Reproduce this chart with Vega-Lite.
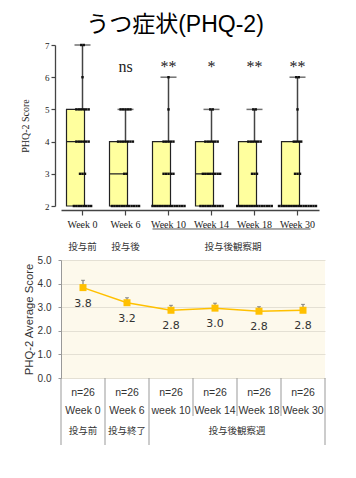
{
"$schema": "https://vega.github.io/schema/vega-lite/v6.json",
"padding": {"left": 20, "top": 14, "right": 5, "bottom": 5},
"title": {"text": "うつ症状(PHQ-2)", "font": "Liberation Sans, Noto Sans CJK JP", "fontSize": 23, "fontWeight": "normal", "color": "#000", "anchor": "middle", "frame": "bounds", "offset": 4, "dx": 2},
"bounds": "flush",
"spacing": 0,
"datasets": {
"box": [
{"week": "Week 0", "min": 2, "q1": 2, "med": 4, "q3": 5, "max": 7},
{"week": "Week 6", "min": 2, "q1": 2, "med": 3, "q3": 4, "max": 5},
{"week": "Week 10", "min": 2, "q1": 2, "med": 2, "q3": 4, "max": 6},
{"week": "Week 14", "min": 2, "q1": 2, "med": 3, "q3": 4, "max": 5},
{"week": "Week 18", "min": 2, "q1": 2, "med": 2, "q3": 4, "max": 5},
{"week": "Week 30", "min": 2, "q1": 2, "med": 2, "q3": 4, "max": 6}
],
"sig": [
{"week": "Week 6", "sig": "ns"},
{"week": "Week 10", "sig": "**"},
{"week": "Week 14", "sig": "*"},
{"week": "Week 18", "sig": "**"},
{"week": "Week 30", "sig": "**"}
],
"wk": [
{"idx": 0, "week": "Week 0", "phase": "投与前"},
{"idx": 1, "week": "Week 6", "phase": "投与後"},
{"idx": 2, "week": "Week 10", "phase": "投与後観察期"},
{"idx": 3, "week": "Week 14", "phase": "投与後観察期"},
{"idx": 4, "week": "Week 18", "phase": "投与後観察期"},
{"idx": 5, "week": "Week 30", "phase": "投与後観察期"}
],
"mean": [
{"idx": 0, "week": "Week 0", "wlabel": "Week 0", "n": "n=26", "mean": 3.83, "upper": 4.14, "label": "3.8", "phase": "投与前"},
{"idx": 1, "week": "Week 6", "wlabel": "Week 6", "n": "n=26", "mean": 3.19, "upper": 3.40, "label": "3.2", "phase": "投与終了"},
{"idx": 2, "week": "Week 10", "wlabel": "week 10", "n": "n=26", "mean": 2.87, "upper": 3.08, "label": "2.8", "phase": "投与後観察週"},
{"idx": 3, "week": "Week 14", "wlabel": "Week 14", "n": "n=26", "mean": 2.96, "upper": 3.17, "label": "3.0", "phase": "投与後観察週"},
{"idx": 4, "week": "Week 18", "wlabel": "Week 18", "n": "n=26", "mean": 2.83, "upper": 3.02, "label": "2.8", "phase": "投与後観察週"},
{"idx": 5, "week": "Week 30", "wlabel": "Week 30", "n": "n=26", "mean": 2.87, "upper": 3.12, "label": "2.8", "phase": "投与後観察週"}
],
"pts": [
{"week":"Week 0","score":7},{"week":"Week 0","score":7},{"week":"Week 0","score":6},
{"week":"Week 0","score":5},{"week":"Week 0","score":5},{"week":"Week 0","score":5},{"week":"Week 0","score":5},{"week":"Week 0","score":5},{"week":"Week 0","score":5},
{"week":"Week 0","score":4},{"week":"Week 0","score":4},{"week":"Week 0","score":4},{"week":"Week 0","score":4},{"week":"Week 0","score":4},{"week":"Week 0","score":4},
{"week":"Week 0","score":3},{"week":"Week 0","score":3},{"week":"Week 0","score":3},
{"week":"Week 0","score":2},{"week":"Week 0","score":2},{"week":"Week 0","score":2},{"week":"Week 0","score":2},{"week":"Week 0","score":2},{"week":"Week 0","score":2},{"week":"Week 0","score":2},{"week":"Week 0","score":2},
{"week":"Week 6","score":5},{"week":"Week 6","score":5},{"week":"Week 6","score":5},{"week":"Week 6","score":5},{"week":"Week 6","score":5},
{"week":"Week 6","score":4},{"week":"Week 6","score":4},{"week":"Week 6","score":4},{"week":"Week 6","score":4},{"week":"Week 6","score":4},{"week":"Week 6","score":4},{"week":"Week 6","score":4},
{"week":"Week 6","score":3},{"week":"Week 6","score":3},
{"week":"Week 6","score":2},{"week":"Week 6","score":2},{"week":"Week 6","score":2},{"week":"Week 6","score":2},{"week":"Week 6","score":2},{"week":"Week 6","score":2},{"week":"Week 6","score":2},{"week":"Week 6","score":2},{"week":"Week 6","score":2},{"week":"Week 6","score":2},{"week":"Week 6","score":2},{"week":"Week 6","score":2},
{"week":"Week 10","score":6},{"week":"Week 10","score":5},
{"week":"Week 10","score":4},{"week":"Week 10","score":4},{"week":"Week 10","score":4},{"week":"Week 10","score":4},{"week":"Week 10","score":4},
{"week":"Week 10","score":3},{"week":"Week 10","score":3},{"week":"Week 10","score":3},{"week":"Week 10","score":3},{"week":"Week 10","score":3},
{"week":"Week 10","score":2},{"week":"Week 10","score":2},{"week":"Week 10","score":2},{"week":"Week 10","score":2},{"week":"Week 10","score":2},{"week":"Week 10","score":2},{"week":"Week 10","score":2},{"week":"Week 10","score":2},{"week":"Week 10","score":2},{"week":"Week 10","score":2},{"week":"Week 10","score":2},{"week":"Week 10","score":2},{"week":"Week 10","score":2},{"week":"Week 10","score":2},
{"week":"Week 14","score":5},{"week":"Week 14","score":5},
{"week":"Week 14","score":4},{"week":"Week 14","score":4},{"week":"Week 14","score":4},{"week":"Week 14","score":4},{"week":"Week 14","score":4},{"week":"Week 14","score":4},
{"week":"Week 14","score":3},{"week":"Week 14","score":3},{"week":"Week 14","score":3},{"week":"Week 14","score":3},{"week":"Week 14","score":3},{"week":"Week 14","score":3},{"week":"Week 14","score":3},{"week":"Week 14","score":3},
{"week":"Week 14","score":2},{"week":"Week 14","score":2},{"week":"Week 14","score":2},{"week":"Week 14","score":2},{"week":"Week 14","score":2},{"week":"Week 14","score":2},{"week":"Week 14","score":2},{"week":"Week 14","score":2},{"week":"Week 14","score":2},{"week":"Week 14","score":2},
{"week":"Week 18","score":5},{"week":"Week 18","score":5},
{"week":"Week 18","score":4},{"week":"Week 18","score":4},{"week":"Week 18","score":4},{"week":"Week 18","score":4},{"week":"Week 18","score":4},{"week":"Week 18","score":4},
{"week":"Week 18","score":3},{"week":"Week 18","score":3},{"week":"Week 18","score":3},
{"week":"Week 18","score":2},{"week":"Week 18","score":2},{"week":"Week 18","score":2},{"week":"Week 18","score":2},{"week":"Week 18","score":2},{"week":"Week 18","score":2},{"week":"Week 18","score":2},{"week":"Week 18","score":2},{"week":"Week 18","score":2},{"week":"Week 18","score":2},{"week":"Week 18","score":2},{"week":"Week 18","score":2},{"week":"Week 18","score":2},{"week":"Week 18","score":2},{"week":"Week 18","score":2},
{"week":"Week 30","score":6},{"week":"Week 30","score":6},{"week":"Week 30","score":5},
{"week":"Week 30","score":4},{"week":"Week 30","score":4},{"week":"Week 30","score":4},{"week":"Week 30","score":4},
{"week":"Week 30","score":3},{"week":"Week 30","score":3},{"week":"Week 30","score":3},
{"week":"Week 30","score":2},{"week":"Week 30","score":2},{"week":"Week 30","score":2},{"week":"Week 30","score":2},{"week":"Week 30","score":2},{"week":"Week 30","score":2},{"week":"Week 30","score":2},{"week":"Week 30","score":2},{"week":"Week 30","score":2},{"week":"Week 30","score":2},{"week":"Week 30","score":2},{"week":"Week 30","score":2},{"week":"Week 30","score":2},{"week":"Week 30","score":2},{"week":"Week 30","score":2},{"week":"Week 30","score":2}
]
},
"vconcat": [
{
"width": 258,
"height": 161,
"encoding": {"x": {"field": "week", "type": "nominal", "scale": {"domain": ["Week 0","Week 6","Week 10","Week 14","Week 18","Week 30"], "paddingInner": 0.256, "paddingOuter": 0.128}, "axis": {"title": null, "labelAngle": 0, "labelFont": "Liberation Serif", "labelFontSize": 10, "labelColor": "#222", "tickSize": 5, "tickColor": "#444", "tickWidth": 1.2, "domainColor": "#444", "domainWidth": 1.3, "offset": 4, "labelPadding": 4}}},
"layer": [
{"data": {"name": "box"}, "mark": {"type": "rule", "color": "#444", "strokeWidth": 1.5},
 "encoding": {"y": {"field": "min", "type": "quantitative", "scale": {"domain": [2, 7], "nice": false, "zero": false}, "axis": {"values": [2,3,4,5,6,7], "tickCount": 6, "labelOverlap": false, "title": "PHQ-2 Score", "titleFont": "Liberation Serif", "titleFontSize": 10, "titleFontWeight": "normal", "titleColor": "#222", "titlePadding": 14, "labelFont": "Liberation Serif", "labelFontSize": 9, "labelColor": "#222", "labelPadding": 2, "tickSize": 4, "tickColor": "#444", "tickWidth": 1.2, "domainColor": "#444", "domainWidth": 1.3, "offset": 6, "grid": false}}, "y2": {"field": "max"}}},
{"data": {"name": "box"}, "mark": {"type": "tick", "color": "#333", "size": 16, "thickness": 1.5, "orient": "horizontal"},
 "encoding": {"y": {"field": "max", "type": "quantitative"}}},
{"data": {"name": "box"}, "mark": {"type": "bar", "fill": "#FFFF9E", "stroke": "#222", "strokeWidth": 1.2},
 "encoding": {"y": {"field": "q1", "type": "quantitative"}, "y2": {"field": "q3"}}},
{"data": {"name": "box"}, "mark": {"type": "bar", "fill": null, "stroke": "#222", "strokeWidth": 1.2},
 "encoding": {"y": {"field": "med", "type": "quantitative"}, "y2": {"field": "med"}}},
{"data": {"name": "pts"},
 "transform": [
  {"window": [{"op": "row_number", "as": "r"}], "groupby": ["week", "score"]},
  {"joinaggregate": [{"op": "count", "as": "cnt"}], "groupby": ["week", "score"]},
  {"calculate": "datum.r - (datum.cnt + 1) / 2", "as": "off"}
 ],
 "mark": {"type": "square", "filled": true, "color": "#111", "size": 6, "opacity": 1},
 "encoding": {"y": {"field": "score", "type": "quantitative"}, "xOffset": {"field": "off", "type": "quantitative", "scale": {"domain": [-6.5, 6.5]}}}},
{"data": {"name": "sig"}, "mark": {"type": "text", "font": "Liberation Serif", "fontSize": 16, "baseline": "alphabetic", "color": "#222"},
 "encoding": {"y": {"datum": 6.16, "type": "quantitative", "axis": {"values": [2,3,4,5,6,7], "tickCount": 6, "labelOverlap": false, "title": "PHQ-2 Score", "titleFont": "Liberation Serif", "titleFontSize": 10, "titleFontWeight": "normal", "titleColor": "#222", "titlePadding": 14, "labelFont": "Liberation Serif", "labelFontSize": 9, "labelColor": "#222", "labelPadding": 2, "tickSize": 4, "tickColor": "#444", "tickWidth": 1.2, "domainColor": "#444", "domainWidth": 1.3, "offset": 6, "grid": false}}, "text": {"field": "sig"}}}
]
},
{
"width": 258,
"height": 53.3,
"data": {"name": "wk"},
"layer": [
{"transform": [{"filter": "datum.phase == '投与後観察期'"}],
 "mark": {"type": "rule", "color": "#555", "strokeWidth": 1, "xOffset": -16, "x2Offset": 13},
 "encoding": {"x": {"aggregate": "min", "field": "idx", "type": "quantitative", "scale": {"domain": [-0.5, 5.5], "nice": false, "zero": false}, "axis": null}, "x2": {"aggregate": "max", "field": "idx"}, "y": {"datum": "line", "type": "nominal", "scale": {"type": "point", "domain": ["line", "label"], "padding": 2.83, "align": 0.647}, "axis": null}}},
{"mark": {"type": "text", "font": "Noto Sans CJK JP", "fontSize": 9.5, "color": "#333"},
 "encoding": {"x": {"aggregate": "mean", "field": "idx", "type": "quantitative"}, "y": {"datum": "label", "type": "nominal"}, "text": {"field": "phase"}}}
]
},
{
"width": 264,
"height": 118,
"data": {"name": "mean"},
"view": {"fill": "#FDF9EC", "stroke": null},
"encoding": {"x": {"field": "week", "type": "nominal", "scale": {"type": "point", "domain": ["Week 0","Week 6","Week 10","Week 14","Week 18","Week 30"], "padding": 0.5}, "axis": null}},
"layer": [
{"mark": {"type": "rule", "color": "#999", "strokeWidth": 1}, "encoding": {"y": {"datum": 0, "type": "quantitative", "scale": {"domain": [0, 5], "nice": false}, "axis": {"values": [0,1,2,3,4,5], "tickCount": 6, "labelOverlap": false, "format": ".1f", "title": "PHQ-2 Average Score", "titleFont": "Liberation Sans", "titleFontSize": 11.3, "titleFontWeight": "normal", "titleColor": "#333", "titlePadding": 3, "labelFont": "Liberation Sans", "labelFontSize": 10, "labelColor": "#333", "labelPadding": 7, "tickSize": 3, "tickColor": "#999", "domainColor": "#999", "grid": true, "gridColor": "#E4E0D4"}}}},
{"mark": {"type": "rule", "color": "#666", "strokeWidth": 1},
 "encoding": {"y": {"field": "mean", "type": "quantitative", "axis": {"values": [0,1,2,3,4,5], "tickCount": 6, "labelOverlap": false, "format": ".1f", "title": "PHQ-2 Average Score", "titleFont": "Liberation Sans", "titleFontSize": 11.3, "titleFontWeight": "normal", "titleColor": "#333", "titlePadding": 3, "labelFont": "Liberation Sans", "labelFontSize": 10, "labelColor": "#333", "labelPadding": 7, "tickSize": 3, "tickColor": "#999", "domainColor": "#999", "grid": true, "gridColor": "#E4E0D4"}}, "y2": {"field": "upper"}}},
{"mark": {"type": "tick", "color": "#666", "size": 4, "thickness": 1, "orient": "horizontal"},
 "encoding": {"y": {"field": "upper", "type": "quantitative"}}},
{"mark": {"type": "line", "color": "#FFC000", "strokeWidth": 1.5},
 "encoding": {"y": {"field": "mean", "type": "quantitative"}}},
{"mark": {"type": "square", "filled": true, "color": "#FFC000", "size": 49, "opacity": 1},
 "encoding": {"y": {"field": "mean", "type": "quantitative"}}},
{"mark": {"type": "text", "font": "DejaVu Sans", "fontSize": 11, "color": "#333", "dy": 16},
 "encoding": {"y": {"field": "mean", "type": "quantitative"}, "text": {"field": "label"}}}
]
},
{
"width": 264,
"height": 38,
"data": {"name": "mean"},
"encoding": {"x": {"field": "week", "type": "nominal", "scale": {"type": "band", "domain": ["Week 0","Week 6","Week 10","Week 14","Week 18","Week 30"], "paddingInner": 0, "paddingOuter": 0}, "axis": null}},
"layer": [
{"mark": {"type": "rule", "color": "#999"}, "encoding": {"x": {"field": "week", "type": "nominal", "bandPosition": 0}}},
{"transform": [{"filter": "datum.idx == 5"}], "mark": {"type": "rule", "color": "#999"}, "encoding": {"x": {"field": "week", "type": "nominal", "bandPosition": 1}}},
{"mark": {"type": "text", "font": "Liberation Sans Narrow, Liberation Sans", "fontSize": 10.5, "color": "#333"},
 "encoding": {"y": {"datum": "n", "type": "nominal", "scale": {"type": "point", "domain": ["n", "w"], "padding": 0.54, "align": 0.75}, "axis": null}, "text": {"field": "n"}}},
{"mark": {"type": "text", "font": "Liberation Sans Narrow, Liberation Sans", "fontSize": 10.5, "color": "#333"},
 "encoding": {"y": {"datum": "w", "type": "nominal"}, "text": {"field": "wlabel"}}}
]
},
{
"width": 264,
"height": 29,
"data": {"name": "mean"},
"resolve": {"scale": {"x": "independent"}},
"layer": [
{"transform": [{"joinaggregate": [{"op": "min", "field": "idx", "as": "first"}], "groupby": ["phase"]}, {"filter": "datum.idx == datum.first"}],
 "mark": {"type": "rule", "color": "#999"},
 "encoding": {"x": {"field": "week", "type": "nominal", "bandPosition": 0, "scale": {"type": "band", "domain": ["Week 0","Week 6","Week 10","Week 14","Week 18","Week 30"], "paddingInner": 0, "paddingOuter": 0}, "axis": null}}},
{"transform": [{"filter": "datum.idx == 5"}],
 "mark": {"type": "rule", "color": "#999"},
 "encoding": {"x": {"field": "week", "type": "nominal", "bandPosition": 1, "scale": {"type": "band", "domain": ["Week 0","Week 6","Week 10","Week 14","Week 18","Week 30"], "paddingInner": 0, "paddingOuter": 0}, "axis": null}}},
{"mark": {"type": "text", "font": "Noto Sans CJK JP", "fontSize": 9.5, "color": "#333"},
 "encoding": {"x": {"aggregate": "mean", "field": "idx", "type": "quantitative", "scale": {"domain": [-0.5, 5.5], "nice": false, "zero": false}, "axis": null}, "text": {"field": "phase"}}}
]
}
],
"config": {"view": {"stroke": null}}
}
